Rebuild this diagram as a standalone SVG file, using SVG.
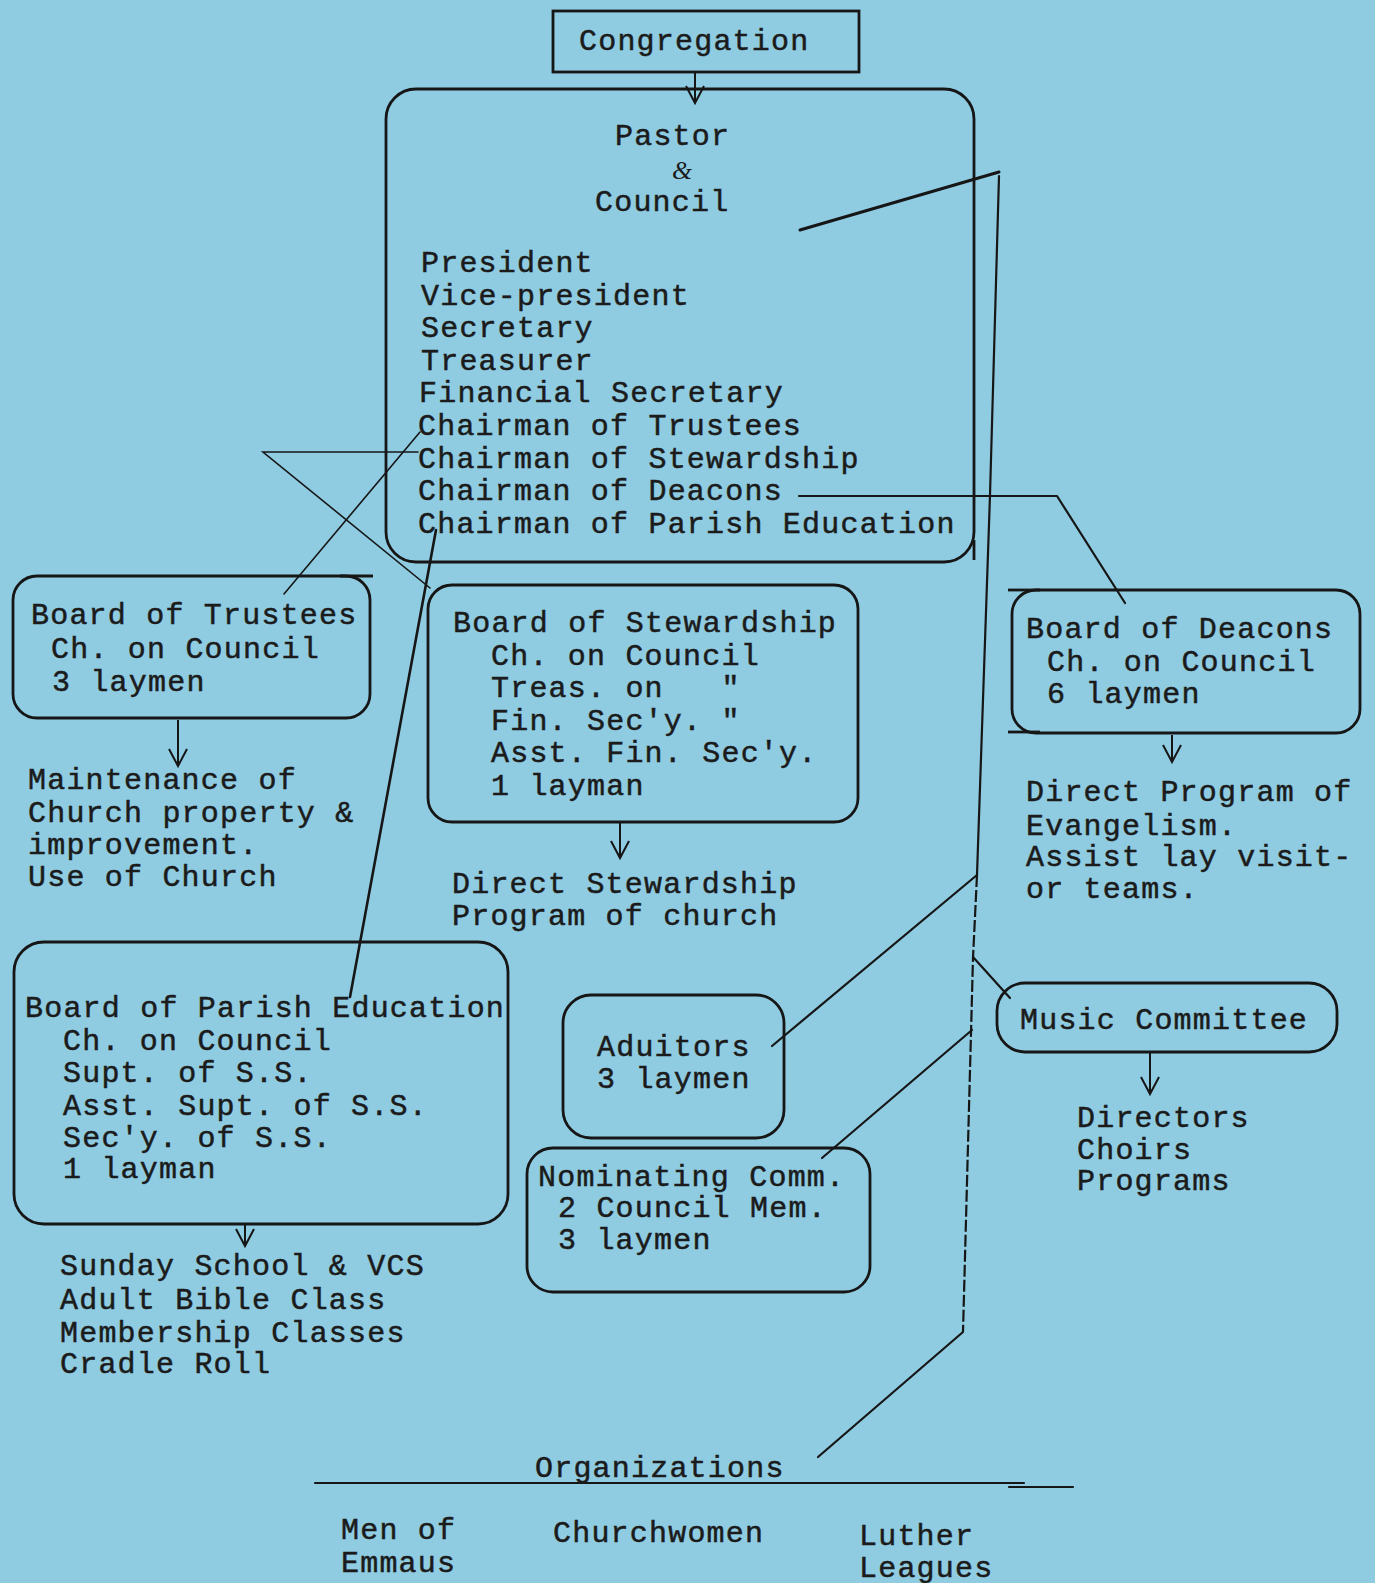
<svg xmlns="http://www.w3.org/2000/svg" width="1375" height="1583" viewBox="0 0 1375 1583">
<defs>
<style>
.bg{fill:#8fcce2}
.t{font-family:"Liberation Mono","Courier New",monospace;font-size:30px;letter-spacing:1.2px;fill:#1b1b1b;stroke:#1b1b1b;stroke-width:0.5;white-space:pre}
.amp{font-family:"Liberation Serif",serif;font-style:italic;font-size:26px;fill:#1b1b1b}
.box{fill:none;stroke:#161616;stroke-width:2.8}
.ln{fill:none;stroke:#161616;stroke-width:2.2;stroke-linecap:round;stroke-linejoin:round}
.dash{fill:none;stroke:#161616;stroke-width:2.2;stroke-dasharray:12 3}
.thin{fill:none;stroke:#161616;stroke-width:1.6;stroke-linecap:round}
.arr{fill:none;stroke:#161616;stroke-width:2;marker-end:url(#vhead)}
</style>
<marker id="vhead" viewBox="0 0 22 22" refX="19" refY="11" markerWidth="22" markerHeight="22" markerUnits="userSpaceOnUse" orient="auto">
<path d="M2,2 L19,11 L2,20" fill="none" stroke="#161616" stroke-width="2"/>
</marker>
</defs>
<rect class="bg" x="0" y="0" width="1375" height="1583"/>

<g id="connectors">
<line class="arr" x1="695" y1="72" x2="695" y2="103"/>
<line class="thin" x1="284" y1="594" x2="420" y2="432"/>
<polyline class="thin" points="418,452 263,452 430,588"/>
<line class="ln" x1="436" y1="530" x2="350" y2="997" style="stroke-width:2.6"/>
<polyline class="ln" points="799,496 1057,496 1125,603"/>
<polyline class="ln" points="999,176 990,495 977,875"/>
<polyline class="dash" points="977,875 973,958 963,1332"/>
<line class="ln" x1="800" y1="230" x2="999" y2="172" style="stroke-width:3"/>
<line class="ln" x1="977" y1="875" x2="772" y2="1046"/>
<line class="ln" x1="972" y1="1030" x2="822" y2="1158"/>
<line class="ln" x1="973" y1="957" x2="1010" y2="998"/>
<line class="ln" x1="963" y1="1332" x2="818" y2="1457"/>
<line class="arr" x1="178" y1="720" x2="178" y2="766"/>
<line class="arr" x1="620" y1="823" x2="620" y2="858"/>
<line class="arr" x1="1172" y1="735" x2="1172" y2="762"/>
<line class="arr" x1="245" y1="1225" x2="245" y2="1246"/>
<line class="arr" x1="1150" y1="1053" x2="1150" y2="1094"/>
<polyline class="ln" points="315,1483 1024,1483"/>
<polyline class="ln" points="1009,1487 1073,1487"/>
</g>

<g id="congregation">
<rect class="box" x="553" y="11" width="306" height="61"/>
<text class="t" x="579" y="50">Congregation</text>
</g>

<g id="council">
<rect class="box" x="386" y="89" width="588" height="473" rx="30"/>
<line class="box" x1="974" y1="540" x2="974" y2="560"/>
<text class="t" x="615" y="145">Pastor</text>
<text class="amp" x="672" y="179">&amp;</text>
<text class="t" x="595" y="211">Council</text>
<text class="t" x="421" y="272">President</text>
<text class="t" x="421" y="305">Vice-president</text>
<text class="t" x="421" y="337">Secretary</text>
<text class="t" x="421" y="370">Treasurer</text>
<text class="t" x="419" y="402">Financial Secretary</text>
<text class="t" x="418" y="435">Chairman of Trustees</text>
<text class="t" x="418" y="468">Chairman of Stewardship</text>
<text class="t" x="418" y="500">Chairman of Deacons</text>
<text class="t" x="418" y="533">Chairman of Parish Education</text>
</g>

<g id="trustees">
<rect class="box" x="13" y="576" width="357" height="142" rx="24"/>
<line class="box" x1="340" y1="576" x2="373" y2="576"/>
<text class="t" x="31" y="624">Board of Trustees</text>
<text class="t" x="51" y="658">Ch. on Council</text>
<text class="t" x="52" y="691">3 laymen</text>
</g>

<g id="trustees-duties">
<text class="t" x="28" y="789">Maintenance of</text>
<text class="t" x="28" y="822">Church property &amp;</text>
<text class="t" x="28" y="854">improvement.</text>
<text class="t" x="28" y="886">Use of Church</text>
</g>

<g id="stewardship">
<rect class="box" x="428" y="585" width="430" height="237" rx="24"/>
<text class="t" x="453" y="632">Board of Stewardship</text>
<text class="t" x="491" y="665">Ch. on Council</text>
<text class="t" x="491" y="697">Treas. on   "</text>
<text class="t" x="491" y="730">Fin. Sec'y. "</text>
<text class="t" x="491" y="762">Asst. Fin. Sec'y.</text>
<text class="t" x="491" y="795">1 layman</text>
</g>

<g id="stewardship-duties">
<text class="t" x="452" y="893">Direct Stewardship</text>
<text class="t" x="452" y="925">Program of church</text>
</g>

<g id="deacons">
<rect class="box" x="1012" y="590" width="348" height="143" rx="24"/>
<line class="box" x1="1008" y1="590" x2="1040" y2="590"/>
<line class="box" x1="1008" y1="732" x2="1040" y2="732"/>
<text class="t" x="1026" y="638">Board of Deacons</text>
<text class="t" x="1047" y="671">Ch. on Council</text>
<text class="t" x="1047" y="703">6 laymen</text>
</g>

<g id="deacons-duties">
<text class="t" x="1026" y="801">Direct Program of</text>
<text class="t" x="1026" y="835">Evangelism.</text>
<text class="t" x="1026" y="866">Assist lay visit-</text>
<text class="t" x="1026" y="898">or teams.</text>
</g>

<g id="parish-education">
<rect class="box" x="14" y="942" width="494" height="282" rx="30"/>
<text class="t" x="25" y="1017">Board of Parish Education</text>
<text class="t" x="63" y="1050">Ch. on Council</text>
<text class="t" x="63" y="1082">Supt. of S.S.</text>
<text class="t" x="63" y="1115">Asst. Supt. of S.S.</text>
<text class="t" x="63" y="1147">Sec'y. of S.S.</text>
<text class="t" x="63" y="1178">1 layman</text>
</g>

<g id="parish-duties">
<text class="t" x="60" y="1275">Sunday School &amp; VCS</text>
<text class="t" x="60" y="1309">Adult Bible Class</text>
<text class="t" x="60" y="1342">Membership Classes</text>
<text class="t" x="60" y="1373">Cradle Roll</text>
</g>

<g id="aduitors">
<rect class="box" x="563" y="995" width="221" height="143" rx="28"/>
<text class="t" x="597" y="1056">Aduitors</text>
<text class="t" x="597" y="1088">3 laymen</text>
</g>

<g id="nominating">
<rect class="box" x="527" y="1148" width="343" height="144" rx="26"/>
<text class="t" x="538" y="1186">Nominating Comm.</text>
<text class="t" x="558" y="1217">2 Council Mem.</text>
<text class="t" x="558" y="1249">3 laymen</text>
</g>

<g id="music">
<rect class="box" x="997" y="983" width="340" height="69" rx="28"/>
<text class="t" x="1020" y="1029">Music Committee</text>
</g>

<g id="music-duties">
<text class="t" x="1077" y="1127">Directors</text>
<text class="t" x="1077" y="1159">Choirs</text>
<text class="t" x="1077" y="1190">Programs</text>
</g>

<g id="organizations">
<text class="t" x="535" y="1477">Organizations</text>
<text class="t" x="341" y="1539">Men of</text>
<text class="t" x="341" y="1572">Emmaus</text>
<text class="t" x="553" y="1542">Churchwomen</text>
<text class="t" x="859" y="1545">Luther</text>
<text class="t" x="859" y="1577">Leagues</text>
</g>
</svg>
